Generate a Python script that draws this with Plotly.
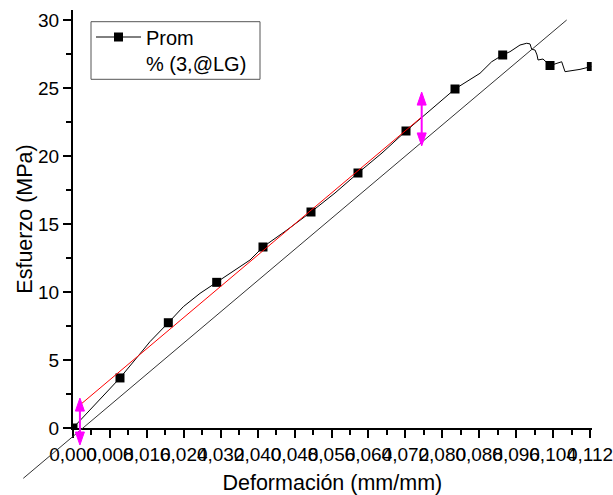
import plotly.graph_objects as go

# ---------------- data ----------------
strain = [0.0, 0.01018, 0.01538, 0.01668, 0.02065, 0.0239, 0.02751, 0.03113, 0.03546,
          0.03834, 0.04116, 0.04636, 0.05156, 0.05676, 0.06174, 0.06694, 0.07214,
          0.07734, 0.08276, 0.08817, 0.0907, 0.09309, 0.09467, 0.09684, 0.09829,
          0.09901, 0.09937, 0.1001, 0.10052, 0.10074, 0.10182, 0.10334, 0.10587,
          0.10659, 0.10804, 0.10984, 0.1123]
stress = [0.0, 3.68, 5.81, 6.35, 7.74, 8.92, 9.9, 10.71, 11.74,
          12.35, 13.31, 14.56, 15.88, 17.28, 18.75, 20.22, 21.84,
          23.38, 24.93, 26.08, 26.93, 27.43, 27.67, 28.16, 28.29,
          28.24, 27.85, 27.79, 27.43, 27.06, 27.13, 26.65, 26.93,
          26.2, 26.27, 26.37, 26.58]

marker_strain = [0.0, 0.01018, 0.02065, 0.03113, 0.04116, 0.05156, 0.06174,
                 0.07214, 0.08276, 0.09309, 0.10334, 0.1123]
marker_stress = [0.0, 3.68, 7.74, 10.71, 13.31, 15.88, 18.75,
                 21.84, 24.93, 27.43, 26.65, 26.58]

fit_strain = [0.0015, 0.07554]
fit_stress = [1.69, 22.87]

offset_strain = [-0.01077, 0.10695]
offset_stress = [-3.70, 30.0]

arrow_strain = [0.0015, 0.07554]
arrow_low = [-1.25, 20.74]
arrow_high = [2.2, 24.7]

x_tick_vals = [0.0, 0.008, 0.016, 0.024, 0.032, 0.040, 0.048, 0.056,
               0.064, 0.072, 0.080, 0.088, 0.096, 0.104, 0.112]
x_tick_labels = ["0,000", "0,008", "0,016", "0,024", "0,032", "0,040", "0,048", "0,056",
                 "0,064", "0,072", "0,080", "0,088", "0,096", "0,104", "0,112"]
y_tick_vals = [0, 5, 10, 15, 20, 25, 30]
y_tick_labels = ["0", "5", "10", "15", "20", "25", "30"]

legend_names = ["Prom", "% (3,@LG)"]

# ---------------- layout geometry ----------------
W, H = 613, 495
PX_L, PX_R = 73.0, 591.7
PY_B, PY_T = 428.0, 10.0
X_RANGE = [0.0, 0.11237]
Y_RANGE = [0.0, 30.735]

sx = (PX_R - PX_L) / (X_RANGE[1] - X_RANGE[0])
sy = (PY_B - PY_T) / (Y_RANGE[1] - Y_RANGE[0])
X2_RANGE = [X_RANGE[0] - PX_L / sx, X_RANGE[0] + (W - PX_L) / sx]
Y2_RANGE = [Y_RANGE[0] - (H - PY_B) / sy, Y_RANGE[0] + PY_B / sy]

FONT = "Liberation Sans, Arial, sans-serif"

# legend box (pixels)
LB_L, LB_R, LB_T, LB_B = 91.0, 260.0, 21.7, 79.3
LEG_ROW = [37.0, 63.0]

fig = go.Figure()

fig.add_trace(go.Scatter(x=strain, y=stress, mode="lines",
                         line=dict(color="black", width=1),
                         showlegend=False, xaxis="x", yaxis="y"))
fig.add_trace(go.Scatter(x=marker_strain, y=marker_stress, mode="markers",
                         marker=dict(symbol="square", size=9, color="black"),
                         cliponaxis=True, showlegend=False, xaxis="x", yaxis="y"))
fig.add_trace(go.Scatter(x=[None], y=[None], mode="lines+markers", name=legend_names[0],
                         line=dict(color="black", width=1),
                         marker=dict(symbol="square", size=9, color="black"),
                         legend="legend", xaxis="x", yaxis="y"))
fig.add_trace(go.Scatter(x=[None], y=[None], mode="lines", name=legend_names[1],
                         line=dict(color="rgba(0,0,0,0)", width=1),
                         legend="legend2", xaxis="x", yaxis="y"))

fig.add_trace(go.Scatter(x=offset_strain, y=offset_stress, mode="lines",
                         line=dict(color="#333333", width=1),
                         showlegend=False, xaxis="x2", yaxis="y2"))
fig.add_trace(go.Scatter(x=fit_strain, y=fit_stress, mode="lines",
                         line=dict(color="red", width=1),
                         showlegend=False, xaxis="x2", yaxis="y2"))

HEAD_LEN, HEAD_HALF = 13.0, 4.5
hdx = HEAD_HALF / sx
hdy = HEAD_LEN / sy
shapes = []
for xa, ylo, yhi in zip(arrow_strain, arrow_low, arrow_high):
    shapes.append(dict(type="line", xref="x2", yref="y2", x0=xa, x1=xa,
                       y0=ylo + hdy * 0.8, y1=yhi - hdy * 0.8,
                       line=dict(color="#ff00ff", width=2)))
    shapes.append(dict(type="path", xref="x2", yref="y2",
                       path=f"M{xa - hdx},{yhi - hdy} L{xa},{yhi} L{xa + hdx},{yhi - hdy} Z",
                       fillcolor="#ff00ff", line=dict(color="#ff00ff", width=1)))
    shapes.append(dict(type="path", xref="x2", yref="y2",
                       path=f"M{xa - hdx},{ylo + hdy} L{xa},{ylo} L{xa + hdx},{ylo + hdy} Z",
                       fillcolor="#ff00ff", line=dict(color="#ff00ff", width=1)))
shapes.append(dict(type="rect", xref="paper", yref="paper",
                   x0=LB_L / W, x1=LB_R / W, y0=(H - LB_B) / H, y1=(H - LB_T) / H,
                   line=dict(color="#555555", width=1), fillcolor="rgba(0,0,0,0)",
                   layer="above"))

axis_common = dict(showgrid=False, zeroline=False, automargin=False)
leg_common = dict(xanchor="left", yanchor="middle", bgcolor="rgba(0,0,0,0)",
                  borderwidth=0, itemwidth=45,
                  font=dict(size=20, family=FONT, color="black"))

fig.update_layout(
    width=W, height=H,
    margin=dict(l=0, r=0, t=0, b=0),
    paper_bgcolor="white", plot_bgcolor="rgba(0,0,0,0)",
    font=dict(family=FONT, color="black"),
    shapes=shapes,
    xaxis=dict(domain=[PX_L / W, PX_R / W], range=X_RANGE, anchor="y",
               showline=True, linecolor="black", linewidth=2,
               ticks="outside", ticklen=8, tickwidth=2, tickcolor="black",
               tickmode="array", tickvals=x_tick_vals, ticktext=x_tick_labels,
               tickangle=0, ticklabeloverflow="allow",
               tickfont=dict(size=19, family=FONT, color="black"),
               minor=dict(tickmode="linear", tick0=0, dtick=0.004, ticks="outside",
                          ticklen=5, tickwidth=2, tickcolor="black"),
               title=dict(text="Deformación (mm/mm)", font=dict(size=21.5, family=FONT),
                          standoff=12),
               **axis_common),
    yaxis=dict(domain=[(H - PY_B) / H, (H - PY_T) / H], range=Y_RANGE, anchor="x",
               showline=True, linecolor="black", linewidth=2,
               ticks="outside", ticklen=8, tickwidth=2, tickcolor="black",
               tickmode="array", tickvals=y_tick_vals, ticktext=y_tick_labels,
               ticklabeloverflow="allow",
               tickfont=dict(size=19, family=FONT, color="black"),
               minor=dict(tickmode="linear", tick0=0, dtick=2.5, ticks="outside",
                          ticklen=5, tickwidth=2, tickcolor="black"),
               title=dict(text="Esfuerzo (MPa)", font=dict(size=21.5, family=FONT),
                          standoff=0),
               **axis_common),
    xaxis2=dict(domain=[0, 1], range=X2_RANGE, anchor="y2", visible=False,
                **axis_common),
    yaxis2=dict(domain=[0, 1], range=Y2_RANGE, anchor="x2", visible=False,
                **axis_common),
    legend=dict(x=LB_L / W, y=(H - LEG_ROW[0]) / H, **leg_common),
    legend2=dict(x=LB_L / W, y=(H - LEG_ROW[1]) / H, **leg_common),
)

fig.write_html("out.html")
